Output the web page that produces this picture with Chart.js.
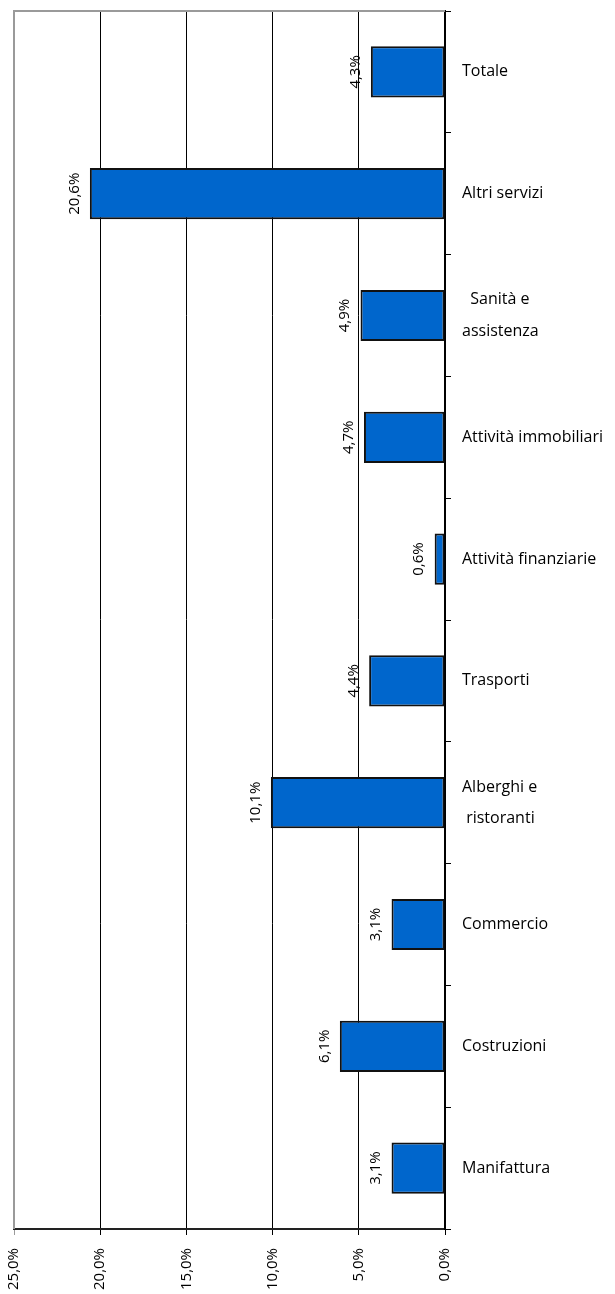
<!DOCTYPE html>
<html>
<head>
<meta charset="utf-8">
<script src="https://cdn.jsdelivr.net/npm/chart.js@4/dist/chart.umd.min.js"></script>
<style>
  html, body { margin: 0; padding: 0; background: #fff; }
  #wrap { width: 615px; height: 1294px; position: relative; }
</style>
</head>
<body>
<div id="wrap"><canvas id="c"></canvas></div>
<script>
// Sectors, top to bottom
const categories = [
  'Totale',
  'Altri servizi',
  ['  Sanità e', 'assistenza'],
  'Attività immobiliari',
  'Attività finanziarie',
  'Trasporti',
  ['Alberghi e', ' ristoranti'],
  'Commercio',
  'Costruzioni',
  'Manifattura'
];
// Percentage values per sector
const values = [4.3, 20.6, 4.9, 4.7, 0.6, 4.4, 10.1, 3.1, 6.1, 3.1];
// Horizontal axis range and step
const axisMin = 0;
const axisMax = 25;
const axisStep = 5;

const FONT = '"Open Sans", "Noto Sans", sans-serif';
const fmt = v => v.toFixed(1).replace('.', ',') + '%';

// Frame lines on the top and left of the plot area, plus rotated value labels
const framePlugin = {
  id: 'frame',
  afterDatasetsDraw(chart) {
    const { ctx, chartArea } = chart;
    ctx.save();
    ctx.strokeStyle = '#9a9a9a';
    ctx.lineWidth = 2;
    ctx.beginPath();
    ctx.moveTo(chartArea.left, chartArea.bottom);
    ctx.lineTo(chartArea.left, chartArea.top);
    ctx.lineTo(chartArea.right, chartArea.top);
    ctx.stroke();

    const meta = chart.getDatasetMeta(0);
    ctx.fillStyle = '#000';
    ctx.font = '15px ' + FONT;
    ctx.textAlign = 'center';
    ctx.textBaseline = 'bottom';
    meta.data.forEach((bar, i) => {
      const left = Math.min(bar.x, bar.base);
      ctx.save();
      ctx.translate(left - 8, bar.y);
      ctx.rotate(-Math.PI / 2);
      ctx.fillText(fmt(values[i]), 0, 0);
      ctx.restore();
    });
    ctx.restore();
  }
};

new Chart(document.getElementById('c'), {
  type: 'bar',
  data: {
    labels: categories,
    datasets: [{
      data: values,
      backgroundColor: '#0066CC',
      borderColor: '#111',
      borderWidth: 2,
      borderSkipped: false,
      categoryPercentage: 1,
      barPercentage: 0.42
    }]
  },
  options: {
    indexAxis: 'y',
    responsive: true,
    maintainAspectRatio: false,
    animation: false,
    layout: { padding: { left: 14, top: 11, right: 0, bottom: 0 } },
    plugins: {
      legend: { display: false },
      tooltip: { enabled: false }
    },
    scales: {
      x: {
        reverse: true,
        min: axisMin,
        max: axisMax,
        ticks: {
          stepSize: axisStep,
          minRotation: 90,
          maxRotation: 90,
          padding: 13,
          color: '#000',
          font: { family: FONT, size: 15 },
          callback: v => fmt(v)
        },
        grid: {
          color: c => (c.tick && c.tick.value === axisMax) ? '#9a9a9a' : '#000',
          lineWidth: 1,
          tickLength: 6,
          drawTicks: true
        },
        border: { display: true, color: '#222', width: 2 },
        afterFit: s => { s.height = 65; s.paddingLeft = 0; s.paddingRight = 0; }
      },
      y: {
        position: 'right',
        ticks: {
          color: '#000',
          padding: 11,
          font: c => ({
            family: FONT,
            size: 16,
            lineHeight: Array.isArray(categories[c.index]) ? 1.95 : 1.2
          })
        },
        grid: {
          offset: true,
          drawOnChartArea: false,
          drawTicks: true,
          tickLength: 6,
          color: '#000'
        },
        border: { display: true, color: '#000', width: 2 },
        afterFit: s => { s.width = 170; s.paddingTop = 0; s.paddingBottom = 0; }
      }
    }
  },
  plugins: [framePlugin]
});
</script>
</body>
</html>
